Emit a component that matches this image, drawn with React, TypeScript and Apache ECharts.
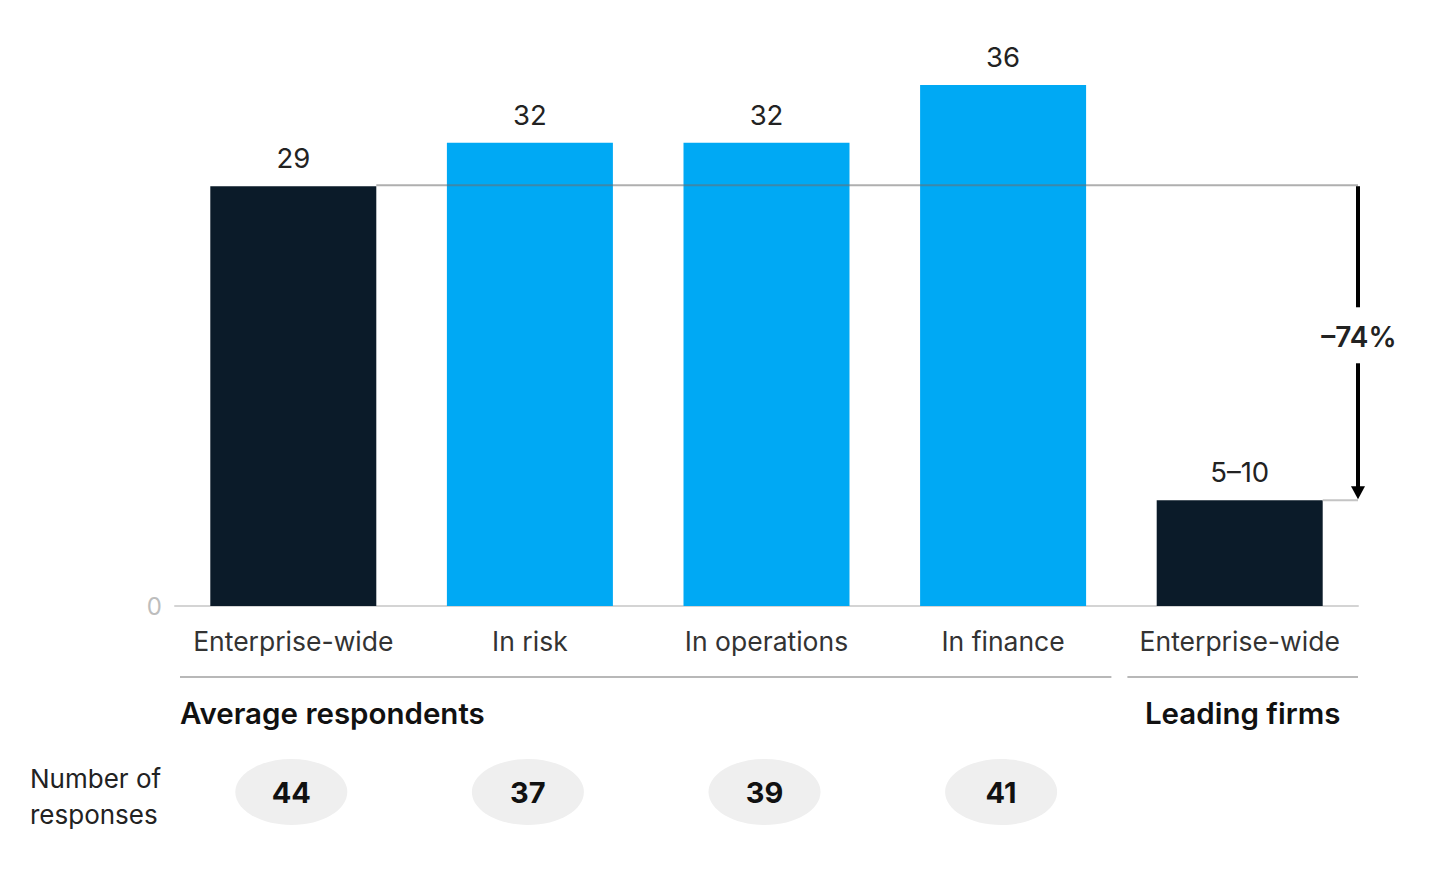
import React, { useEffect, useRef } from "react";
import * as echarts from "echarts";

const categories = ["Enterprise-wide", "In risk", "In operations", "In finance", "Enterprise-wide"];
const values = [29, 32, 32, 36, 7.3];
const valueLabels = ["29", "32", "32", "36", "5–10"];
const barKinds = ["overall", "function", "function", "function", "overall"];
const responses = [44, 37, 39, 41, null];
const groupNames = ["Average respondents", "Leading firms"];
const groupStarts = [0, 4];
const groupEnds = [3, 4];
const groupAlign = ["left", "center"];
const changeLabel = "–74%";
const responsesTitle = ["Number of", "responses"];
const yTicks = [0];

const DARK = "#0b1b29";
const BLUE = "#00a9f4";
const FONT = "Inter, 'Noto Sans', sans-serif";
const BAR_W = 166;

export default function App() {
  const ref = useRef<HTMLDivElement>(null);
  useEffect(() => {
    if (!ref.current) return;
    const chart = echarts.init(ref.current, null, { renderer: "svg" });
    chart.setOption({
      animation: false,
      grid: { left: 175, right: 96, top: 27, bottom: 271, containLabel: false },
      xAxis: {
        type: "category",
        data: categories,
        axisLine: { lineStyle: { color: "#d4d4d4", width: 2 } },
        axisTick: { show: false },
        axisLabel: { fontFamily: FONT, fontSize: 26.5, color: "#333", margin: 21, interval: 0 },
      },
      yAxis: {
        type: "value",
        min: 0,
        max: 40,
        interval: 40,
        axisLine: { show: false },
        axisTick: { show: false },
        splitLine: { show: false },
        axisLabel: {
          fontFamily: FONT,
          fontSize: 24,
          color: "#bdbdbd",
          margin: 13,
          formatter: (v: number) => (yTicks.includes(v) ? String(v) : ""),
        },
      },
      series: [
        {
          type: "bar",
          barWidth: BAR_W,
          data: values.map((v, i) => ({
            value: v,
            itemStyle: { color: barKinds[i] === "overall" ? DARK : BLUE },
            label: { formatter: valueLabels[i] },
          })),
          label: {
            show: true,
            position: "top",
            distance: 14,
            fontFamily: FONT,
            fontSize: 27.5,
            color: "#222",
          },
        },
      ],
    });

    const px = (i: number, v: number) => chart.convertToPixel({ gridIndex: 0 }, [i, v]) as number[];
    const p0 = px(0, 0);
    const p1 = px(1, 0);
    const catW = p1[0] - p0[0];
    const last = categories.length - 1;
    const xRight = px(last, 0)[0] + catW / 2;
    const yZero = p0[1];
    const yTop = px(0, values[0])[1];
    const yLow = px(last, values[last])[1];
    const yMid = (yTop + yLow) / 2;

    const g: any[] = [];
    // reference line
    g.push({
      type: "line",
      z: 100,
      shape: { x1: p0[0] + BAR_W / 2, y1: yTop - 1, x2: xRight, y2: yTop - 1 },
      style: { stroke: "rgba(110,110,110,0.55)", lineWidth: 2 },
    });
    g.push({
      type: "line",
      z: 100,
      shape: { x1: px(last, 0)[0] + BAR_W / 2, y1: yLow, x2: xRight, y2: yLow },
      style: { stroke: "#c4c4c4", lineWidth: 2 },
    });
    // arrow
    g.push({
      type: "line",
      z: 101,
      shape: { x1: xRight, y1: yTop, x2: xRight, y2: yMid - 36 },
      style: { stroke: "#000", lineWidth: 4 },
    });
    g.push({
      type: "line",
      z: 101,
      shape: { x1: xRight, y1: yMid + 20, x2: xRight, y2: yLow - 12 },
      style: { stroke: "#000", lineWidth: 4 },
    });
    g.push({
      type: "polygon",
      z: 101,
      shape: { points: [[xRight - 7, yLow - 14], [xRight + 7, yLow - 14], [xRight, yLow - 1]] },
      style: { fill: "#000" },
    });
    g.push({
      type: "text",
      z: 101,
      x: xRight + 1,
      y: yMid - 6,
      style: {
        text: changeLabel,
        fontFamily: FONT,
        fontSize: 28,
        fontWeight: 600,
        fill: "#222",
        align: "center",
        verticalAlign: "middle",
      },
    });
    // groups
    const yGroupLine = yZero + 71;
    groupNames.forEach((name, k) => {
      const a = px(groupStarts[k], 0)[0] - catW / 2;
      const b = px(groupEnds[k], 0)[0] + catW / 2;
      const x1 = k === 0 ? a + 5 : a + 6;
      const x2 = k === groupNames.length - 1 ? b : b - 10;
      g.push({
        type: "line",
        shape: { x1, y1: yGroupLine, x2, y2: yGroupLine },
        style: { stroke: "#b8b8b8", lineWidth: 2 },
      });
      const center = groupAlign[k] === "center";
      g.push({
        type: "text",
        x: center ? (px(groupStarts[k], 0)[0] + px(groupEnds[k], 0)[0]) / 2 + 3 : x1,
        y: yGroupLine + 36,
        style: {
          text: name,
          fontFamily: FONT,
          fontSize: 29.5,
          fontWeight: 600,
          fill: "#111",
          align: center ? "center" : "left",
          verticalAlign: "middle",
        },
      });
    });
    // responses
    const yResp = yZero + 186;
    g.push({
      type: "text",
      x: 30,
      y: yResp + 4,
      style: {
        text: responsesTitle.join("\n"),
        fontFamily: FONT,
        fontSize: 26,
        lineHeight: 36,
        fill: "#222",
        align: "left",
        verticalAlign: "middle",
      },
    });
    responses.forEach((r, i) => {
      if (r == null) return;
      const cx = px(i, 0)[0] - 2;
      g.push({
        type: "ellipse",
        shape: { cx, cy: yResp, rx: 56, ry: 33 },
        style: { fill: "#efefef" },
      });
      g.push({
        type: "text",
        x: cx,
        y: yResp,
        style: {
          text: String(r),
          fontFamily: FONT,
          fontSize: 29,
          fontWeight: 700,
          fill: "#111",
          align: "center",
          verticalAlign: "middle",
        },
      });
    });
    chart.setOption({ graphic: g });
    return () => chart.dispose();
  }, []);
  return (
    <div
      ref={ref}
      style={{ position: "absolute", left: 0, top: 0, width: 1454, height: 877, background: "#fff" }}
    />
  );
}
